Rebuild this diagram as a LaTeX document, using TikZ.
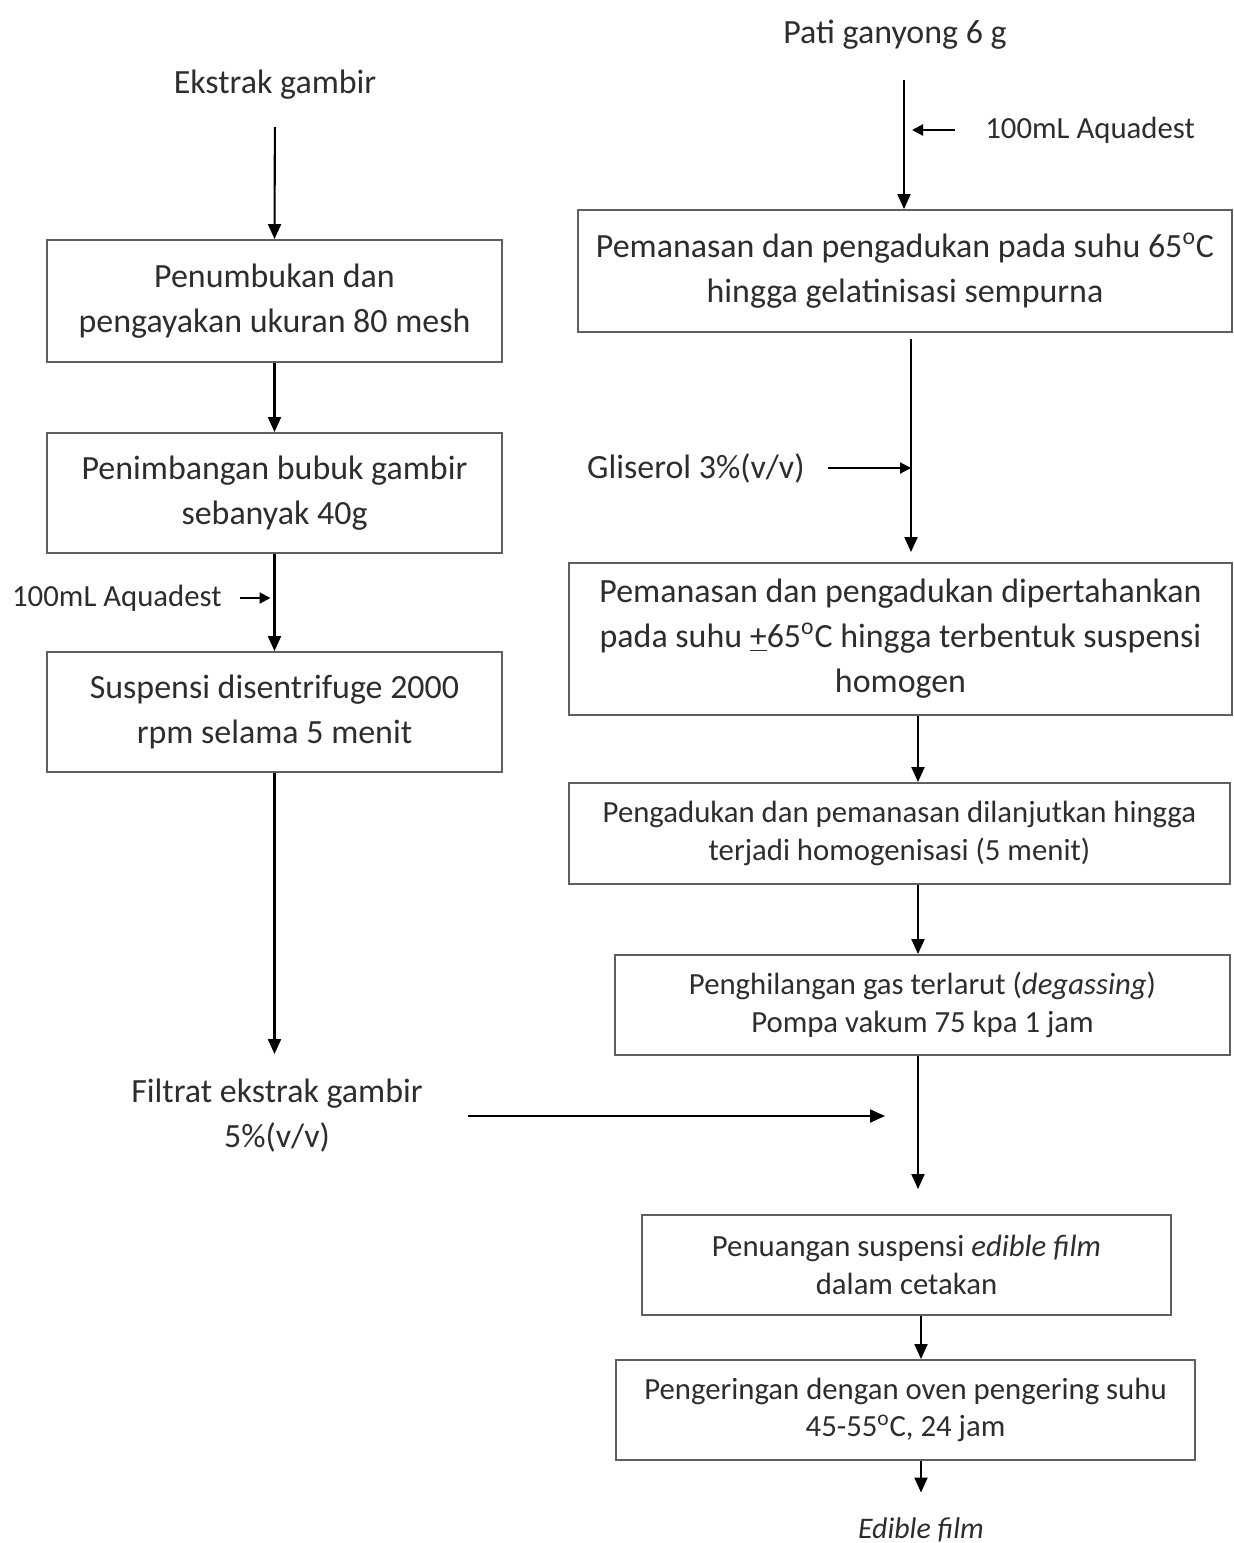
\documentclass[tikz,border=0pt]{standalone}
\usepackage{fontspec}
\setmainfont{Carlito}
\usetikzlibrary{positioning,arrows.meta}
\definecolor{boxgray}{RGB}{95,95,95}
\definecolor{inkgray}{RGB}{45,45,45}

\begin{document}
\begin{tikzpicture}[
    x=0.2mm, y=-0.2mm,
    box/.style={
        draw=boxgray,
        line width=1.1pt,
        align=center,
        inner sep=0pt,
        text=inkgray,
        font=\fontsize{19.3}{25.6}\selectfont
    },
    smallbox/.style={
        box,
        font=\fontsize{17.5}{21.4}\selectfont
    },
    lbl/.style={
        align=center,
        inner sep=0pt,
        text=inkgray,
        font=\fontsize{19.3}{25.6}\selectfont
    },
    arr/.style={
        -{Triangle[length=3mm,width=2.6mm]},
        line width=1.2pt
    },
    sidearr/.style={
        -{Triangle[length=2.2mm,width=2.2mm]},
        line width=1.2pt
    }
]

\useasboundingbox (0,0) rectangle (1234,1543);

% ============================================================
% Ekstrak gambir
% ============================================================

\node[lbl] (ekstrak) at (275,85)
{Ekstrak gambir};

\node[box, minimum width=91mm, minimum height=24.4mm] (gerus) at (274.5,301)
{Penumbukan dan\\pengayakan ukuran 80 mesh};

\node[box, minimum width=91mm, minimum height=24mm] (timbang) at (274.5,493)
{Penimbangan bubuk gambir\\sebanyak 40g};

\node[lbl, anchor=east, font=\fontsize{17.5}{20}\selectfont] (aqua2) at (222,598)
{100mL Aquadest};

\node[box, minimum width=91mm, minimum height=24mm] (sentri) at (274.5,712)
{Suspensi disentrifuge 2000\\rpm selama 5 menit};

\node[lbl] (filtrat) at (277,1116)
{Filtrat ekstrak gambir\\5\%(v/v)};

\draw[arr, shorten <=5.4mm] (ekstrak.south) -- (gerus.north);
\draw[arr] (gerus) -- (timbang);
\draw[arr] (timbang) -- (sentri);
\draw[sidearr, shorten <=3.6mm, shorten >=0.8mm] (aqua2.east) -- (aqua2.east -| timbang.south);
\draw[arr, shorten >=5mm] (sentri.south) -- (sentri.south |- filtrat.north);


% ============================================================
% Pati ganyong
% ============================================================

\coordinate (sA) at (904,0);
\coordinate (sB) at (911,0);
\coordinate (sC) at (918,0);
\coordinate (sD) at (921,0);
\coordinate (gabung) at (885,1116);

\node[lbl] (pati) at (895,35)
{Pati ganyong 6 g};

\node[lbl, anchor=west, font=\fontsize{17.5}{20}\selectfont] (aqua1) at (985,130)
{100mL Aquadest};

\node[box, minimum width=130.8mm, minimum height=24.4mm] (panas1) at (905,271)
{Pemanasan dan pengadukan pada suhu 65\textsuperscript{o}C\\hingga gelatinisasi sempurna};

\node[lbl, anchor=east] (glis) at (805,468)
{Gliserol 3\%(v/v)};

\node[box, minimum width=132.6mm, minimum height=30.4mm] (panas2) at (900.5,639)
{Pemanasan dan pengadukan dipertahankan\\pada suhu \underline{+}65\textsuperscript{o}C hingga terbentuk suspensi\\homogen};

\node[smallbox, minimum width=132.2mm, minimum height=20.2mm] (aduk) at (899.5,833.5)
{Pengadukan dan pemanasan dilanjutkan hingga\\terjadi homogenisasi (5 menit)};

\node[smallbox, minimum width=123mm, minimum height=20mm] (degas) at (922.5,1005)
{Penghilangan gas terlarut (\textit{degassing})\\Pompa vakum 75 kpa 1 jam};

\node[smallbox, minimum width=105.8mm, minimum height=20mm] (tuang) at (906.5,1265)
{Penuangan suspensi \textit{edible film}\\dalam cetakan};

\node[smallbox, minimum width=115.8mm, minimum height=20mm] (kering) at (905.5,1410)
{Pengeringan dengan oven pengering suhu\\45-55\textsuperscript{o}C, 24 jam};

\node[lbl, font=\fontsize{17}{20}\selectfont\itshape] (edible) at (921,1530)
{Edible film};

\draw[arr, shorten <=6mm] (pati.south -| sA) -- (panas1.north -| sA);
\draw[sidearr, shorten <=6mm, shorten >=1.6mm] (aqua1.west) -- (aqua1.west -| sA);
\draw[arr, shorten <=1.2mm, shorten >=2mm] (panas1.south -| sB) -- (panas2.north -| sB);
\draw[sidearr, shorten <=4.6mm] (glis.east) -- (glis.east -| sB);
\draw[arr] (panas2.south -| sC) -- (aduk.north -| sC);
\draw[arr] (aduk.south -| sC) -- (degas.north -| sC);
\draw[arr, shorten >=5mm] (degas.south -| sC) -- (tuang.north -| sC);
\draw[arr, shorten <=9mm] (filtrat.east) -- (gabung);
\draw[arr] (tuang.south -| sD) -- (kering.north -| sD);
\draw[arr, shorten >=5mm] (kering.south -| sD) -- (edible.north -| sD);

\end{tikzpicture}
\end{document}
